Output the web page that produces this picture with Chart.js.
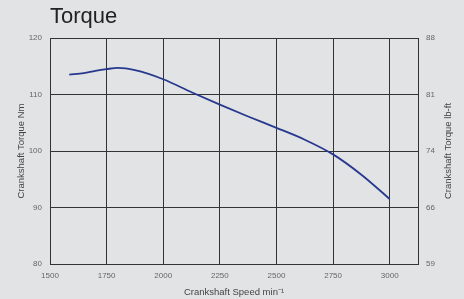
<!DOCTYPE html>
<html>
<head>
<meta charset="utf-8">
<script src="https://cdn.jsdelivr.net/npm/chart.js@4"></script>
<style>
  html, body { margin: 0; padding: 0; background: #e2e3e5; }
  #wrap { width: 464px; height: 299px; }
</style>
</head>
<body>
<div id="wrap"><canvas id="torqueChart" width="464" height="299"></canvas></div>
<script>
// ---- data ----
const speedRpm = [1585, 1650, 1700, 1750, 1800, 1875, 2000, 2125, 2250, 2375, 2500, 2625, 2750, 2875, 3000];
const torqueNm = [113.5, 113.8, 114.2, 114.5, 114.7, 114.3, 112.7, 110.4, 108.2, 106.1, 104.1, 102.0, 99.4, 95.8, 91.5];
const xTicks = [1500, 1750, 2000, 2250, 2500, 2750, 3000];
const nmTicks = [80, 90, 100, 110, 120];
const lbftLabels = ['59', '66', '74', '81', '88'];

const FONT = "'Liberation Sans', Arial, Helvetica, sans-serif";
const GRID = '#333333';

// "Torque" title at the plot's left edge + right axis title (reads bottom-to-top)
const textPlugin = {
  id: 'extraText',
  afterDraw(chart) {
    const ctx = chart.ctx;
    const a = chart.chartArea;
    ctx.save();
    ctx.font = '22px ' + FONT;
    ctx.fillStyle = '#222';
    ctx.textBaseline = 'middle';
    ctx.textAlign = 'left';
    ctx.fillText('Torque', a.left, 17);

    ctx.translate(448, (a.top + a.bottom) / 2);
    ctx.rotate(-Math.PI / 2);
    ctx.font = '9.5px ' + FONT;
    ctx.fillStyle = '#444';
    ctx.textAlign = 'center';
    ctx.fillText('Crankshaft Torque lb-ft', 0, 0);
    ctx.restore();
  }
};

new Chart(document.getElementById('torqueChart'), {
  type: 'line',
  data: {
    datasets: [{
      data: speedRpm.map((s, i) => ({ x: s, y: torqueNm[i] })),
      borderColor: '#27398f',
      borderWidth: 1.8,
      pointRadius: 0,
      cubicInterpolationMode: 'monotone',
      fill: false
    }]
  },
  options: {
    responsive: false,
    animation: false,
    layout: { padding: { top: 38 } },
    plugins: { legend: { display: false }, tooltip: { enabled: false } },
    scales: {
      x: {
        type: 'linear',
        min: 1500, max: 3125,
        afterBuildTicks: s => { s.ticks = xTicks.map(v => ({ value: v })); },
        afterFit: s => { s.height = 35; },
        grid: { color: GRID, lineWidth: 1, drawTicks: false },
        border: { color: GRID, width: 1 },
        ticks: { padding: 7, color: '#666', font: { family: FONT, size: 8 }, callback: v => String(v) },
        title: {
          display: true, text: 'Crankshaft Speed min⁻¹', color: '#444',
          font: { family: FONT, size: 9.5 }, padding: { top: 0, bottom: 1 }
        }
      },
      y: {
        position: 'left',
        min: 80, max: 120,
        afterBuildTicks: s => { s.ticks = nmTicks.map(v => ({ value: v })); },
        afterFit: s => { s.width = 50; },
        grid: { color: GRID, lineWidth: 1, drawTicks: false },
        border: { color: GRID, width: 1 },
        ticks: { padding: 8, color: '#666', font: { family: FONT, size: 8 }, callback: v => String(v) },
        title: {
          display: true, text: 'Crankshaft Torque Nm', color: '#444',
          font: { family: FONT, size: 9.5 }, padding: { top: 16, bottom: 0 }
        }
      },
      y2: {
        position: 'right',
        min: 80, max: 120,
        afterBuildTicks: s => { s.ticks = nmTicks.map(v => ({ value: v })); },
        afterFit: s => { s.width = 46; },
        grid: { display: false, drawTicks: false },
        border: { color: GRID, width: 1 },
        ticks: {
          padding: 8, color: '#666', font: { family: FONT, size: 8 },
          callback: (v, i) => lbftLabels[i]
        }
      }
    }
  },
  plugins: [textPlugin]
});
</script>
</body>
</html>
